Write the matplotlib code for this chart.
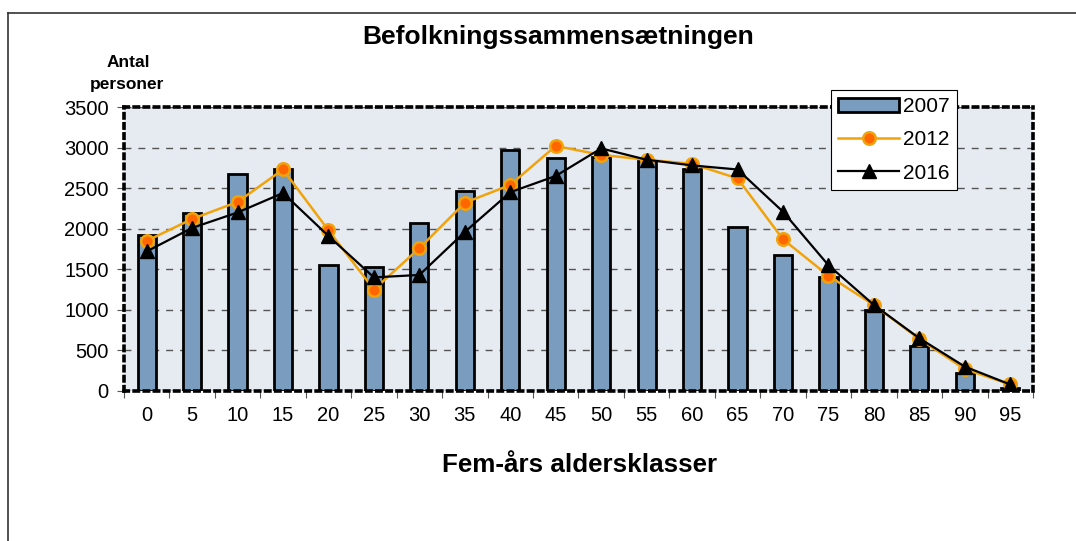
import numpy as np
import matplotlib.pyplot as plt
from matplotlib.lines import Line2D

plt.rcParams['font.family'] = ['Liberation Sans', 'DejaVu Sans']

# Fem-års aldersklasser
age_groups = ['0', '5', '10', '15', '20', '25', '30', '35', '40', '45',
              '50', '55', '60', '65', '70', '75', '80', '85', '90', '95']

# Antal personer pr. år
pop_2007 = [1920, 2190, 2680, 2740, 1550, 1530, 2070, 2460, 2970, 2870,
            2880, 2830, 2740, 2020, 1680, 1400, 1000, 560, 220, 40]
pop_2012 = [1850, 2120, 2330, 2730, 1980, 1250, 1760, 2320, 2540, 3020,
            2910, 2850, 2800, 2620, 1870, 1420, 1060, 640, 270, 80]
pop_2016 = [1720, 2010, 2200, 2440, 1910, 1400, 1430, 1960, 2450, 2650,
            2990, 2850, 2780, 2730, 2210, 1550, 1060, 650, 300, 80]

x = np.arange(len(age_groups))

fig = plt.figure(figsize=(10.76, 5.41), dpi=100)
ax = fig.add_axes([0.1152, 0.2773, 0.8448, 0.5249])
ax.set_facecolor('#E6EBF2')

# outer chart frame (only top and left visible in the crop)
fig.add_artist(Line2D([8 / 1076, 1.0], [1 - 13 / 541, 1 - 13 / 541], color='#333333', lw=1.2))
fig.add_artist(Line2D([8 / 1076, 8 / 1076], [0, 1 - 13 / 541], color='#333333', lw=1.2))

bars = ax.bar(x, pop_2007, width=0.4, color='#7A9CBF', edgecolor='black', linewidth=2,
              zorder=2, label='2007')
l12, = ax.plot(x, pop_2012, color='#F0A30A', lw=1.8, marker='o', markersize=9,
               markerfacecolor='#FF6600', markeredgecolor='#F0A30A', markeredgewidth=1.8,
               zorder=3, label='2012')
l16, = ax.plot(x, pop_2016, color='black', lw=1.6, marker='^', markersize=10,
               markerfacecolor='black', markeredgecolor='black', zorder=4, label='2016')

ax.set_xlim(-0.5, len(age_groups) - 0.5)
ax.set_ylim(0, 3500)
ax.set_yticks(np.arange(0, 3501, 500))
ax.yaxis.grid(True, linestyle=(0, (5, 5)), color='#555555', lw=1, zorder=0)
ax.set_axisbelow(True)

# ticks between categories, labels at centres
ax.set_xticks(np.arange(-0.5, len(age_groups), 1.0))
ax.set_xticklabels([])
ax.set_xticks(x, minor=True)
ax.set_xticklabels(age_groups, minor=True, fontsize=14.5)
ax.tick_params(axis='x', which='minor', length=0, pad=11)
ax.tick_params(axis='x', which='major', length=5, color='#555555', direction='out')
ax.tick_params(axis='y', length=5, color='#555555', labelsize=14.5, pad=6)

for side in ['top', 'bottom', 'left', 'right']:
    ax.spines[side].set_linestyle((0, (1.2, 1.6)))
    ax.spines[side].set_linewidth(2.6)
    ax.spines[side].set_color('black')

fig.text(0.519, 0.932, 'Befolkningssammensætningen', ha='center', va='center',
         fontsize=19, fontweight='bold')
fig.text(0.119, 0.884, 'Antal', ha='center', va='center', fontsize=12.5, fontweight='bold')
fig.text(0.118, 0.843, 'personer', ha='center', va='center', fontsize=12.5,
         fontweight='bold')
fig.text(0.539, 0.140, 'Fem-års aldersklasser', ha='center', va='center',
         fontsize=18.7, fontweight='bold')

leg = ax.legend([bars, l12, l16], ['2007', '2012', '2016'],
                loc='upper left', bbox_to_anchor=(831 / 1076, 1 - 90 / 541),
                bbox_transform=fig.transFigure, fontsize=15, frameon=True,
                fancybox=False, framealpha=1, edgecolor='black',
                handlelength=2.9, labelspacing=0.68, borderpad=0.35,
                handletextpad=0.2, borderaxespad=0)
leg.get_frame().set_linewidth(0.8)
leg.set_zorder(10)

fig.savefig('out.png', dpi=100)
